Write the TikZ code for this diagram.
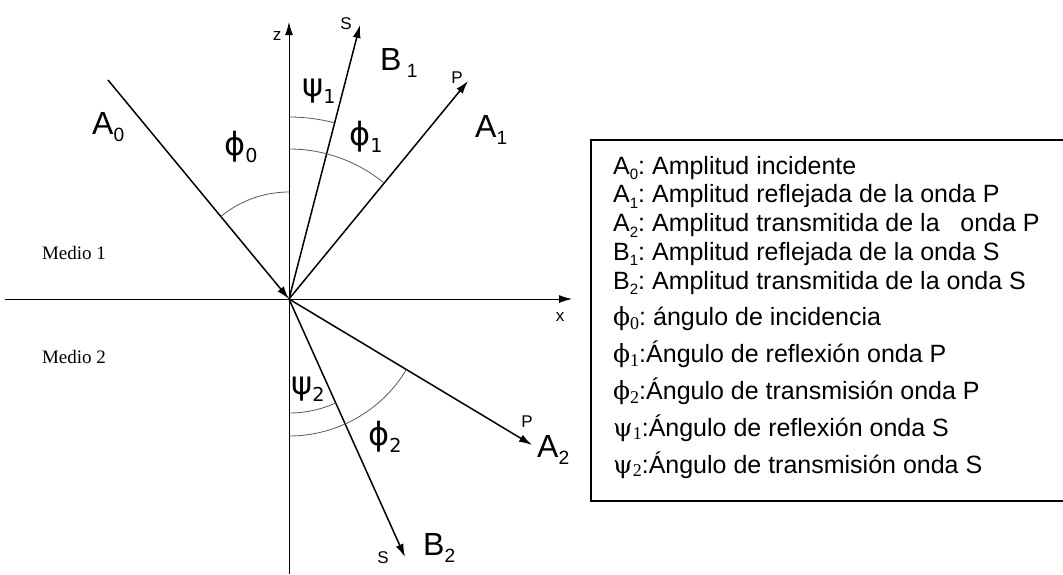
\documentclass[tikz,border=0pt]{standalone}
\usepackage{fontspec}
\setmainfont{Liberation Serif}
\setsansfont{Liberation Sans}
\newfontfamily\grk{DejaVu Sans}
\newfontfamily\keygrk{DejaVu Serif}
\usetikzlibrary{arrows.meta,positioning}
\frenchspacing
\newcommand{\sub}[1]{\raisebox{-.22em}{\scalebox{.6}{#1}}}
\newcommand{\gsub}[1]{\raisebox{-.15em}{\scalebox{.72}{\rmfamily #1}}}

\begin{document}
\begin{tikzpicture}[x=1pt, y=1pt,
    ray/.style={line width=1.5pt, -{Latex[length=13pt,width=8pt]}},
    axis/.style={line width=1pt, -{Latex[length=13pt,width=8pt]}},
    angarc/.style={line width=0.8pt, black!65},
    big/.style={font=\fontsize{32}{32}\selectfont\sffamily, inner sep=0pt, anchor=base west},
    ang/.style={font=\fontsize{32}{32}\selectfont\grk, inner sep=0pt, anchor=base west},
    tag/.style={font=\fontsize{17}{17}\selectfont\sffamily, inner sep=0pt},
    medio/.style={font=\fontsize{19}{19}\selectfont\rmfamily, inner sep=0pt},
    key/.style={font=\fontsize{25}{25}\selectfont\sffamily, inner sep=0pt, anchor=base west}]
    \useasboundingbox (0,0) rectangle (1063,-574);
    \coordinate (O) at (289,-299);
    \coordinate (zbot) at (289,-574);
    \coordinate (ztop) at (289,-22);
    \coordinate (xleft) at (5,-299);
    \coordinate (xright) at (572,-299);
    \coordinate (a0) at (108,-80);
    \coordinate (b1) at (360,-25);
    \coordinate (a1) at (468,-81);
    \coordinate (a2) at (532,-445);
    \coordinate (b2) at (405,-557);

    \draw[axis] (zbot) -- (ztop);
    \draw[axis] (xleft) -- (xright);
    \draw[ray] (a0) -- (O);
    \draw[ray] (O) -- (b1);
    \draw[ray] (O) -- (a1);
    \draw[ray] (O) -- (a2);
    \draw[ray] (O) -- (b2);

    \draw[angarc] (O) ++(90:107) arc[start angle=90, end angle=129.6, radius=107];
    \draw[angarc] (O) ++(90:182) arc[start angle=90, end angle=75.6, radius=182];
    \draw[angarc] (O) ++(90:150) arc[start angle=90, end angle=50.8, radius=150];
    \draw[angarc] (O) ++(-90:114) arc[start angle=-90, end angle=-65.8, radius=114];
    \draw[angarc] (O) ++(-90:137) arc[start angle=-90, end angle=-31, radius=137];

    \node[tag] (zlabel) at (277,-36) {z};
    \node[tag] (xlabel) at (560,-317) {x};
    \node[tag] (s1) at (346,-24) {S};
    \node[tag] (p1) at (457,-78) {P};
    \node[tag] (p2) at (527,-422) {P};
    \node[tag] (s2) at (383,-558) {S};

    \node[big] (A0) at (92,-134) {A\sub{0}};
    \node[big] (B1) at (380,-70) {B\,\sub{1}};
    \node[big] (A1) at (475,-137) {A\sub{1}};
    \node[big] (A2) at (537,-457) {A\sub{2}};
    \node[big] (B2) at (423,-555) {B\sub{2}};

    \node[ang] (phi0) at (224,-155) {ϕ\sub{0}};
    \node[ang] (psi1) at (302,-96) {ψ\sub{1}};
    \node[ang] (phi1) at (349,-145) {ϕ\sub{1}};
    \node[ang] (psi2) at (291,-394) {ψ\sub{2}};
    \node[ang] (phi2) at (368,-445) {ϕ\sub{2}};

    \node[medio] (m1) at (74,-253) {Medio 1};
    \node[medio] (m2) at (74,-357) {Medio 2};

    \node[draw, line width=1.5pt, anchor=north west, minimum width=500pt, minimum height=361pt] (keybox) at (590,-139) {};
    \node[key] (k0) at (613,-174) {A\sub{0}: Amplitud incidente};
    \node[key, below=28.75pt of k0.base west, anchor=base west] (k1) {A\sub{1}: Amplitud reflejada de la onda P};
    \node[key, below=28.75pt of k1.base west, anchor=base west] (k2) {A\sub{2}: Amplitud transmitida de la\hspace{.55em} onda P};
    \node[key, below=28.75pt of k2.base west, anchor=base west] (k3) {B\sub{1}: Amplitud reflejada de la onda S};
    \node[key, below=28.75pt of k3.base west, anchor=base west] (k4) {B\sub{2}: Amplitud transmitida de la onda S};
    \node[key, below=36.8pt of k4.base west, anchor=base west] (k5) {{\keygrk ϕ}\gsub{0}: ángulo de incidencia};
    \node[key, below=36.8pt of k5.base west, anchor=base west] (k6) {{\keygrk ϕ}\gsub{1}:Ángulo de reflexión onda P};
    \node[key, below=36.8pt of k6.base west, anchor=base west] (k7) {{\keygrk ϕ}\gsub{2}:Ángulo de transmisión onda P};
    \node[key, below=36.8pt of k7.base west, anchor=base west] (k8) {{\keygrk ψ}\gsub{1}:Ángulo de reflexión onda S};
    \node[key, below=36.8pt of k8.base west, anchor=base west] (k9) {{\keygrk ψ}\gsub{2}:Ángulo de transmisión onda S};
  \end{tikzpicture}
\end{document}
